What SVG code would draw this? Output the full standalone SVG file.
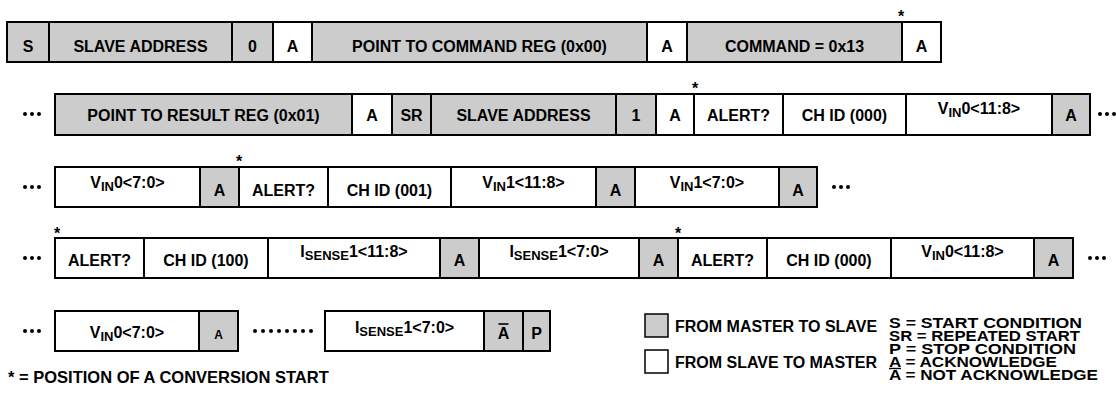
<svg xmlns="http://www.w3.org/2000/svg" width="1116" height="399" viewBox="0 0 1116 399">
<style>
.g{fill:#cccccc;stroke:#000;stroke-width:2}
.w{fill:#ffffff;stroke:#000;stroke-width:2}
text{font-family:"Liberation Sans",Arial,sans-serif;font-weight:bold;font-size:16px;fill:#000}
.c{text-anchor:middle}
.s{font-size:13px}
.d{fill:#000}
.lg{font-size:16px}
.ab{font-size:15px}
</style>
<rect width="1116" height="399" fill="#fff"/>
<!-- Row 1 -->
<g id="r1-s"><rect class="g" x="7" y="22" width="42" height="40"/><text class="c" x="28" y="52">S</text></g>
<g id="r1-addr"><rect class="g" x="49" y="22" width="183" height="40"/><text class="c" x="140.5" y="52">SLAVE ADDRESS</text></g>
<g id="r1-w"><rect class="g" x="232" y="22" width="41" height="40"/><text class="c" x="252.5" y="52">0</text></g>
<g id="r1-a1"><rect class="w" x="273" y="22" width="39" height="40"/><text class="c" x="292.5" y="52">A</text></g>
<g id="r1-ptr"><rect class="g" x="312" y="22" width="335" height="40"/><text class="c" x="479.5" y="52">POINT TO COMMAND REG (0x00)</text></g>
<g id="r1-a2"><rect class="w" x="647" y="22" width="40" height="40"/><text class="c" x="667" y="52">A</text></g>
<g id="r1-cmd"><rect class="g" x="687" y="22" width="215" height="40"/><text class="c" x="794.5" y="52">COMMAND = 0x13</text></g>
<g id="r1-a3"><rect class="w" x="902" y="22" width="39" height="40"/><text class="c" x="921.5" y="52">A</text></g>
<text id="star1" class="c" x="901" y="22">*</text>
<!-- Row 2 -->
<g id="r2-dots"><circle class="d" cx="25" cy="114" r="2"/><circle class="d" cx="32" cy="114" r="2"/><circle class="d" cx="39" cy="114" r="2"/></g>
<g id="r2-ptr"><rect class="g" x="55" y="94" width="297" height="41"/><text class="c" x="203.5" y="121">POINT TO RESULT REG (0x01)</text></g>
<g id="r2-a1"><rect class="w" x="352" y="94" width="40" height="41"/><text class="c" x="372" y="121">A</text></g>
<g id="r2-sr"><rect class="g" x="392" y="94" width="39" height="41"/><text class="c" x="411.5" y="121">SR</text></g>
<g id="r2-addr"><rect class="g" x="431" y="94" width="185" height="41"/><text class="c" x="523.5" y="121">SLAVE ADDRESS</text></g>
<g id="r2-r"><rect class="g" x="616" y="94" width="40" height="41"/><text class="c" x="636" y="121">1</text></g>
<g id="r2-a2"><rect class="w" x="656" y="94" width="38" height="41"/><text class="c" x="675" y="121">A</text></g>
<g id="r2-alert"><rect class="w" x="694" y="94" width="89" height="41"/><text class="c" x="738.5" y="121">ALERT?</text></g>
<g id="r2-ch"><rect class="w" x="783" y="94" width="123" height="41"/><text class="c" x="844.5" y="121">CH ID (000)</text></g>
<g id="r2-vh"><rect class="w" x="906" y="94" width="146" height="41"/><text class="c" x="979" y="114">V<tspan class="s" dy="3">IN</tspan><tspan dy="-3">0&lt;11:8&gt;</tspan></text></g>
<g id="r2-a3"><rect class="g" x="1052" y="94" width="38" height="41"/><text class="c" x="1071" y="121">A</text></g>
<g id="r2-dots2"><circle class="d" cx="1100" cy="114" r="2"/><circle class="d" cx="1107" cy="114" r="2"/><circle class="d" cx="1114" cy="114" r="2"/></g>
<text id="star2" class="c" x="695" y="94">*</text>
<!-- Row 3 -->
<g id="r3-dots"><circle class="d" cx="25" cy="187" r="2"/><circle class="d" cx="32" cy="187" r="2"/><circle class="d" cx="39" cy="187" r="2"/></g>
<g id="r3-vl"><rect class="w" x="55" y="167" width="145" height="40"/><text class="c" x="127.5" y="188">V<tspan class="s" dy="3">IN</tspan><tspan dy="-3">0&lt;7:0&gt;</tspan></text></g>
<g id="r3-a1"><rect class="g" x="200" y="167" width="39" height="40"/><text class="c" x="219.5" y="196">A</text></g>
<g id="r3-alert"><rect class="w" x="239" y="167" width="89" height="40"/><text class="c" x="283.5" y="196">ALERT?</text></g>
<g id="r3-ch"><rect class="w" x="328" y="167" width="123" height="40"/><text class="c" x="389.5" y="196">CH ID (001)</text></g>
<g id="r3-vh"><rect class="w" x="451" y="167" width="145" height="40"/><text class="c" x="523.5" y="188">V<tspan class="s" dy="3">IN</tspan><tspan dy="-3">1&lt;11:8&gt;</tspan></text></g>
<g id="r3-a2"><rect class="g" x="596" y="167" width="39" height="40"/><text class="c" x="615.5" y="196">A</text></g>
<g id="r3-vl1"><rect class="w" x="635" y="167" width="144" height="40"/><text class="c" x="707" y="188">V<tspan class="s" dy="3">IN</tspan><tspan dy="-3">1&lt;7:0&gt;</tspan></text></g>
<g id="r3-a3"><rect class="g" x="779" y="167" width="38" height="40"/><text class="c" x="798" y="196">A</text></g>
<g id="r3-dots2"><circle class="d" cx="834" cy="187" r="2"/><circle class="d" cx="841" cy="187" r="2"/><circle class="d" cx="848" cy="187" r="2"/></g>
<text id="star3" class="c" x="239" y="167">*</text>
<!-- Row 4 -->
<g id="r4-dots"><circle class="d" cx="25" cy="258" r="2"/><circle class="d" cx="32" cy="258" r="2"/><circle class="d" cx="39" cy="258" r="2"/></g>
<g id="r4-alert"><rect class="w" x="55" y="238" width="89" height="40"/><text class="c" x="99.5" y="266">ALERT?</text></g>
<g id="r4-ch"><rect class="w" x="144" y="238" width="124" height="40"/><text class="c" x="206" y="266">CH ID (100)</text></g>
<g id="r4-ih"><rect class="w" x="268" y="238" width="172" height="40"/><text class="c" x="354" y="257">I<tspan class="s" dy="3">SENSE</tspan><tspan dy="-3">1&lt;11:8&gt;</tspan></text></g>
<g id="r4-a1"><rect class="g" x="440" y="238" width="39" height="40"/><text class="c" x="459.5" y="266">A</text></g>
<g id="r4-il"><rect class="w" x="479" y="238" width="160" height="40"/><text class="c" x="559" y="257">I<tspan class="s" dy="3">SENSE</tspan><tspan dy="-3">1&lt;7:0&gt;</tspan></text></g>
<g id="r4-a2"><rect class="g" x="639" y="238" width="39" height="40"/><text class="c" x="658.5" y="266">A</text></g>
<g id="r4-alert2"><rect class="w" x="678" y="238" width="89" height="40"/><text class="c" x="722.5" y="266">ALERT?</text></g>
<g id="r4-ch2"><rect class="w" x="767" y="238" width="124" height="40"/><text class="c" x="829" y="266">CH ID (000)</text></g>
<g id="r4-vh"><rect class="w" x="891" y="238" width="143" height="40"/><text class="c" x="962.5" y="257">V<tspan class="s" dy="3">IN</tspan><tspan dy="-3">0&lt;11:8&gt;</tspan></text></g>
<g id="r4-a3"><rect class="g" x="1034" y="238" width="39" height="40"/><text class="c" x="1053.5" y="266">A</text></g>
<g id="r4-dots2"><circle class="d" cx="1090" cy="258" r="2"/><circle class="d" cx="1097" cy="258" r="2"/><circle class="d" cx="1104" cy="258" r="2"/></g>
<text id="star4" class="c" x="57" y="239">*</text>
<text id="star5" class="c" x="678" y="239">*</text>
<!-- Row 5 -->
<g id="r5-dots"><circle class="d" cx="25" cy="331" r="2"/><circle class="d" cx="32" cy="331" r="2"/><circle class="d" cx="39" cy="331" r="2"/></g>
<g id="r5-vl"><rect class="w" x="55" y="311" width="144" height="40"/><text class="c" x="127" y="338">V<tspan class="s" dy="3">IN</tspan><tspan dy="-3">0&lt;7:0&gt;</tspan></text></g>
<g id="r5-a"><rect class="g" x="199" y="311" width="39" height="40"/><text class="c" x="218.5" y="339" style="font-size:12px">A</text></g>
<g id="r5-dots2"><circle class="d" cx="255" cy="331" r="2"/><circle class="d" cx="263" cy="331" r="2"/><circle class="d" cx="271" cy="331" r="2"/><circle class="d" cx="279" cy="331" r="2"/><circle class="d" cx="287" cy="331" r="2"/><circle class="d" cx="295" cy="331" r="2"/><circle class="d" cx="303" cy="331" r="2"/><circle class="d" cx="311" cy="331" r="2"/></g>
<g id="r5-il"><rect class="w" x="325" y="311" width="159" height="40"/><text class="c" x="404.5" y="333">I<tspan class="s" dy="3">SENSE</tspan><tspan dy="-3">1&lt;7:0&gt;</tspan></text></g>
<g id="r5-na"><rect class="g" x="484" y="311" width="39" height="40"/><text class="c" x="503.5" y="339">A</text><line x1="498.5" y1="324" x2="508.5" y2="324" stroke="#000" stroke-width="1.6"/></g>
<g id="r5-p"><rect class="g" x="523" y="311" width="27" height="40"/><text class="c" x="536.5" y="339">P</text></g>
<text id="note" x="8" y="383" style="font-size:16.5px">* = POSITION OF A CONVERSION START</text>
<!-- Legend -->
<g id="leg-m2s"><rect class="g" x="645" y="314" width="23" height="23" style="stroke-width:1.5"/><text class="lg" x="675" y="332">FROM MASTER TO SLAVE</text></g>
<g id="leg-s2m"><rect class="w" x="645" y="350" width="23" height="23" style="stroke-width:1.5"/><text class="lg" x="675" y="368">FROM SLAVE TO MASTER</text></g>
<g id="leg-abbr">
<text class="ab" x="889" y="328" textLength="193" lengthAdjust="spacingAndGlyphs">S = START CONDITION</text>
<text class="ab" x="889" y="341" textLength="191" lengthAdjust="spacingAndGlyphs">SR = REPEATED START</text>
<text class="ab" x="889" y="354" textLength="187" lengthAdjust="spacingAndGlyphs">P = STOP CONDITION</text>
<text class="ab" x="889" y="367" textLength="168" lengthAdjust="spacingAndGlyphs">A = ACKNOWLEDGE</text>
<text class="ab" x="889" y="380" textLength="209" lengthAdjust="spacingAndGlyphs">A = NOT ACKNOWLEDGE</text>
<line x1="889" y1="368.5" x2="901" y2="368.5" stroke="#000" stroke-width="1.4"/>
</g>
</svg>
